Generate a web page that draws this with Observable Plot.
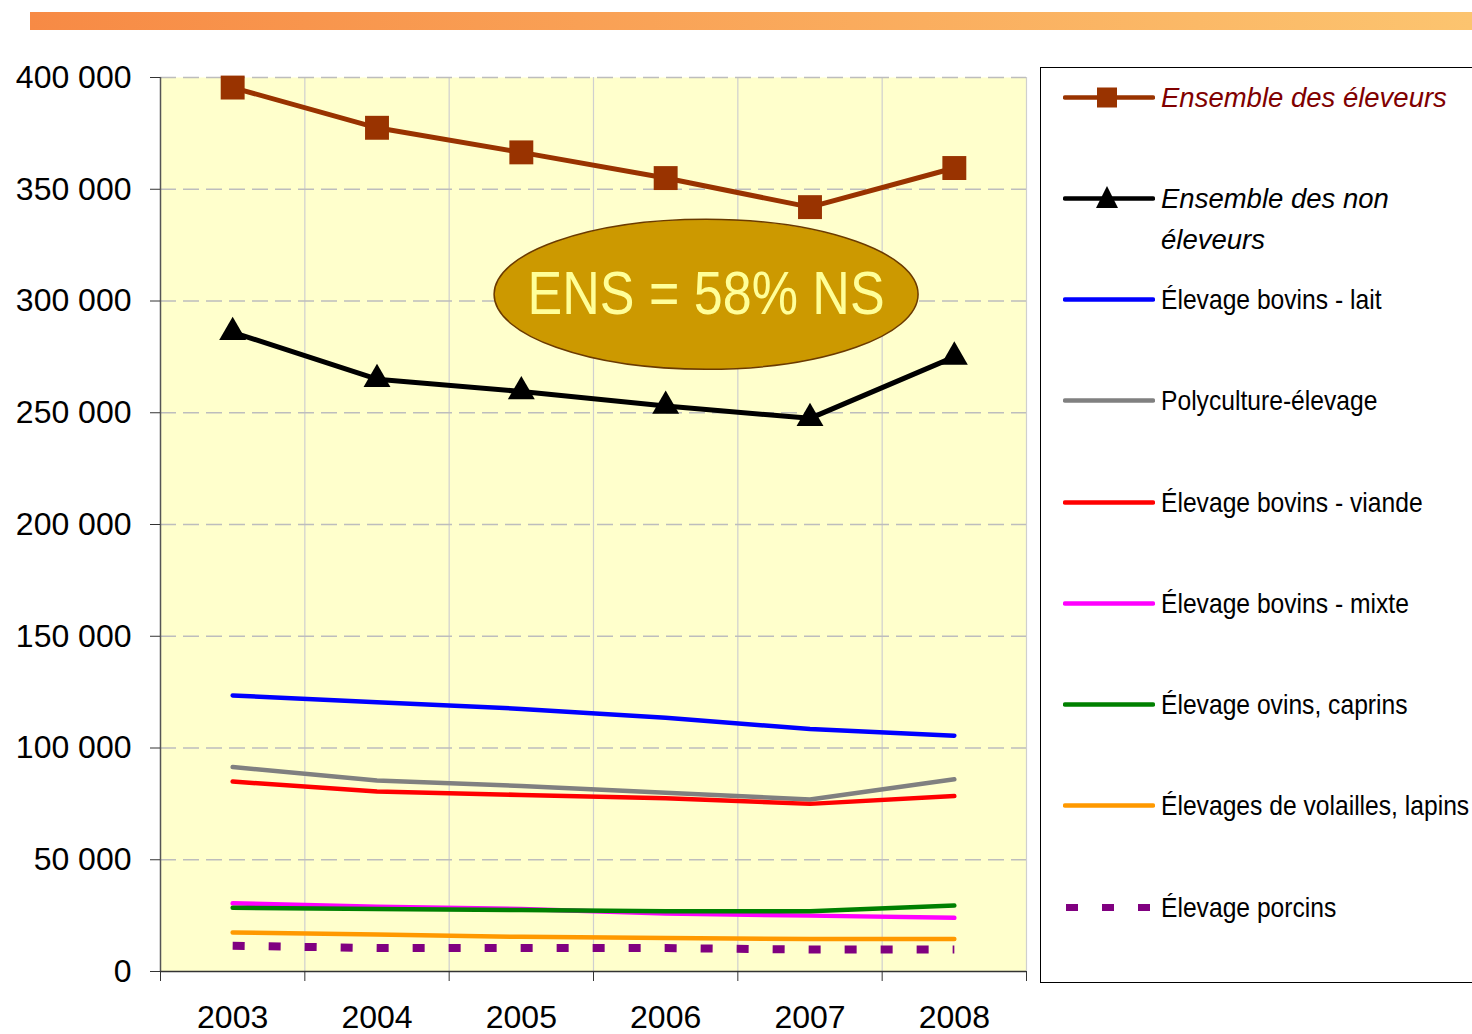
<!DOCTYPE html>
<html><head><meta charset="utf-8">
<script src="https://cdn.jsdelivr.net/npm/d3@7"></script>
<script src="https://cdn.jsdelivr.net/npm/@observablehq/plot@0.6"></script>
<style>
  body { margin: 0; background: #fff; }
  #wrap { position: relative; width: 1472px; height: 1034px; overflow: hidden; }
  #wrap > svg { position: absolute; left: 0; top: 0; }
  .bar { position: absolute; left: 30px; top: 12px; width: 1442px; height: 18px;
         background: linear-gradient(to right, #F78A45, #FCC46F); }
  .legend { position: absolute; left: 1040px; top: 67px; width: 460px; height: 916px;
            border: 1.5px solid #000; background: #fff; box-sizing: border-box; }
  .item { position: absolute; left: 22px; height: 40px; display: flex; align-items: flex-start; }
  .item svg { flex: none; }
  .lab { margin-left: 6px; font-size: 28px; line-height: 41px; white-space: pre; color: #000;
         font-family: "Liberation Sans", Arial, sans-serif; transform: scaleX(0.88); transform-origin: 0 0; }
  .lab.it { font-size: 27.5px; font-style: italic; transform: none; }
</style>
</head><body>
<div id="wrap"><div class="bar"></div></div>
<script>
const years = [2003, 2004, 2005, 2006, 2007, 2008];
const ensembleEleveurs    = [395500, 377500, 366500, 355000, 342000, 359500];
const ensembleNonEleveurs = [286000, 265000, 259500, 253000, 247500, 275000];
const bovinsLait          = [123500, 120500, 117500, 113500, 108500, 105500];
const polyculture         = [91500, 85500, 83000, 80000, 77000, 86000];
const bovinsViande        = [85000, 80500, 79000, 77500, 75000, 78500];
const bovinsMixte         = [30500, 29000, 28000, 26000, 25000, 24000];
const ovinsCaprins        = [28500, 28000, 27500, 27000, 27000, 29500];
const volailles           = [17500, 16500, 15500, 15000, 14500, 14500];
const porcins             = [11500, 10500, 10500, 10500, 9800, 9800];

const seriesNames = ["Ensemble des éleveurs", "Ensemble des non\néleveurs", "Élevage bovins - lait",
  "Polyculture-élevage", "Élevage bovins - viande", "Élevage bovins - mixte",
  "Élevage ovins, caprins", "Élevages de volailles, lapins", "Élevage porcins"];
const seriesValues = [ensembleEleveurs, ensembleNonEleveurs, bovinsLait, polyculture, bovinsViande,
  bovinsMixte, ovinsCaprins, volailles, porcins];
const seriesColors = ["#993300", "#000000", "#0000FF", "#808080", "#FF0000", "#FF00FF", "#008000", "#FF9900", "#800080"];
const yTicks = [0, 50000, 100000, 150000, 200000, 250000, 300000, 350000, 400000];
const annotationText = ["ENS = 58% NS"];

const fmt = d => d3.format(",")(d).replace(/,/g, " ");
const bounds = [years[0] - 0.5, ...years.map(y => y + 0.5)];

const styleOf = i => {
  if (i === 0) return {stroke: seriesColors[i], strokeWidth: 5};
  if (i === 1) return {stroke: seriesColors[i], strokeWidth: 5};
  if (i === 8) return {stroke: seriesColors[i], strokeWidth: 8, strokeDasharray: "12,24", strokeLinecap: "butt"};
  return {stroke: seriesColors[i], strokeWidth: 4.5};
};

const ellipseSymbol = {
  draw(ctx) {
    const rx = 212, ry = 75, k = 0.5523;
    ctx.moveTo(rx, 0);
    ctx.bezierCurveTo(rx, ry * k, rx * k, ry, 0, ry);
    ctx.bezierCurveTo(-rx * k, ry, -rx, ry * k, -rx, 0);
    ctx.bezierCurveTo(-rx, -ry * k, -rx * k, -ry, 0, -ry);
    ctx.bezierCurveTo(rx * k, -ry, rx, -ry * k, rx, 0);
    ctx.closePath();
  }
};

const lineMarks = seriesValues.map((vals, i) =>
  Plot.line(years.map((y, j) => ({year: y, value: vals[j]})), {x: "year", y: "value", ...styleOf(i)}));

const plot = Plot.plot({
  width: 1472, height: 1034,
  marginLeft: 160, marginRight: 446, marginTop: 77, marginBottom: 63,
  style: {background: "transparent", fontFamily: '"Liberation Sans", Arial, sans-serif', fontSize: "32px", color: "#000", overflow: "visible"},
  x: {type: "linear", domain: [bounds[0], bounds[bounds.length - 1]]},
  y: {domain: [0, 400000]},
  marks: [
    Plot.frame({fill: "#FFFFCC", stroke: "none"}),
    Plot.ruleX(bounds.slice(1), {stroke: "#CFCFCF", strokeWidth: 1.2}),
    Plot.ruleY(yTicks.slice(1), {stroke: "#BDBDBD", strokeWidth: 1.5, strokeDasharray: "16,7"}),
    Plot.dot(annotationText, {x: () => 2006.28, y: () => 303000, symbol: ellipseSymbol, r: 10,
      fill: "#CC9900", stroke: "#6B3A00", strokeWidth: 1.5}),
    Plot.text(annotationText, {x: () => 2006.28, y: () => 303000, text: d => d, fill: "#FFFF99",
      fontSize: 62, fontFamily: '"Liberation Sans", Arial, sans-serif', className: "ens-label"}),
    ...lineMarks,
    Plot.dot(years.map((y, j) => ({year: y, value: ensembleEleveurs[j]})),
      {x: "year", y: "value", symbol: "square", r: 13.5, fill: seriesColors[0], stroke: "none"}),
    Plot.dot(years.map((y, j) => ({year: y, value: ensembleNonEleveurs[j]})),
      {x: "year", y: "value", symbol: "triangle", r: 10, fill: seriesColors[1], stroke: "none"}),
    Plot.ruleX([bounds[0]], {stroke: "#555", strokeWidth: 1.5}),
    Plot.ruleY([0], {stroke: "#333", strokeWidth: 1.5}),
    Plot.axisY(yTicks, {tickSize: 10, tickPadding: 19, tickFormat: fmt, label: null, stroke: "#333", fontSize: 32}),
    Plot.axisX(bounds, {tickSize: 10, tickFormat: () => "", label: null, stroke: "#333"}),
    Plot.axisX(years, {tickSize: 0, tickPadding: 34, tickFormat: d => String(d), label: null, fontSize: 32})
  ]
});

// condensed look for the annotation text (no narrow font installed)
d3.select(plot).selectAll(".ens-label text")
  .attr("textLength", 357).attr("lengthAdjust", "spacingAndGlyphs");

const wrap = document.getElementById("wrap");
wrap.insertBefore(plot, wrap.firstChild);

// Legend
const legend = document.createElement("div");
legend.className = "legend";
wrap.appendChild(legend);
seriesNames.forEach((name, i) => {
  const cy = 29 + i * 101.25;
  const item = document.createElement("div");
  item.className = "item";
  item.style.top = (cy - 20.5) + "px";
  const s = styleOf(i);
  let marker = "";
  if (i === 0) marker = `<rect x="34" y="10.5" width="20" height="20" fill="${seriesColors[0]}"/>`;
  if (i === 1) marker = `<path d="M44 8 L55 30 L33 30 Z" fill="#000"/>`;
  const dash = s.strokeDasharray ? `stroke-dasharray="12,24" stroke-linecap="butt"` : `stroke-linecap="round"`;
  const x1 = i === 8 ? 3 : 2;
  item.innerHTML = `<svg width="92" height="41"><line x1="${x1}" x2="90" y1="20.5" y2="20.5" stroke="${s.stroke}" stroke-width="${i === 8 ? 7 : 4.5}" ${dash}/>${marker}</svg>`
    + `<div class="lab${i < 2 ? " it" : ""}" style="color:${i === 0 ? "#800000" : "#000"}">${name}</div>`;
  legend.appendChild(item);
});
</script>
</body></html>
